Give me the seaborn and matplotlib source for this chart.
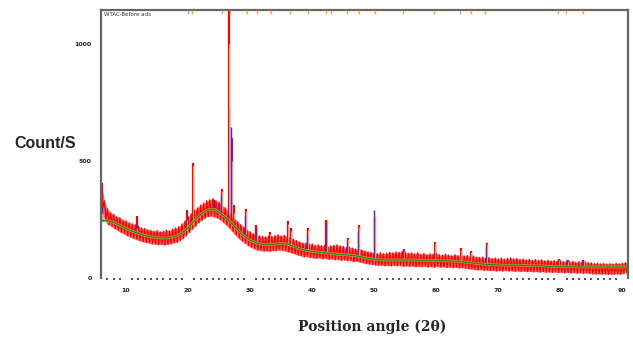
import numpy as np
import matplotlib
matplotlib.use("Agg")
import matplotlib.pyplot as plt
import seaborn as sns

# background (green) read every 1 degree, 6..91
bg_pos = list(range(6, 92))
bg_cnt = [245, 245, 238, 225, 212, 200, 190, 182, 176, 172,
          171, 172, 178, 192, 215, 245, 270, 290, 295, 282,
          260, 235, 205, 180, 162, 150, 144, 143, 145, 148,
          145, 135, 125, 118, 114, 111, 108, 105, 102, 100,
          98, 95, 90, 85, 80, 78, 77, 77, 77, 77,
          77, 77, 76, 75, 74, 73, 73, 72, 70, 67,
          64, 61, 59, 57, 56, 55, 55, 55, 54, 53,
          52, 52, 51, 50, 49, 48, 48, 47, 47, 47,
          47, 47, 47, 47, 47, 47]

# observed (red) noise band, upper / lower edge every 0.5 degree, 6..91
obs_pos = np.arange(6.0, 91.01, 0.5)
obs_top = [410, 330, 295, 280, 272, 262, 258, 248, 245, 236,
           232, 228, 222, 214, 212, 206, 204, 200, 203, 198,
           200, 205, 202, 210, 214, 220, 232, 245, 262, 275,
           290, 300, 312, 320, 330, 335, 340, 330, 325, 310,
           300, 285, 270, 255, 240, 228, 218, 205, 198, 190,
           185, 180, 178, 176, 180, 178, 182, 185, 180, 183,
           178, 172, 165, 160, 155, 150, 150, 145, 146, 140,
           142, 138, 140, 135, 138, 140, 142, 138, 135, 130,
           132, 128, 124, 126, 120, 116, 112, 110, 108, 104,
           108, 104, 106, 110, 108, 112, 110, 114, 110, 106,
           108, 104, 108, 102, 105, 100, 104, 102, 106, 100,
           98, 102, 98, 96, 100, 96, 98, 95, 96, 92,
           94, 90, 88, 90, 86, 88, 84, 86, 82, 85,
           80, 84, 86, 82, 84, 80, 82, 78, 80, 76,
           79, 76, 78, 74, 76, 73, 75, 72, 74, 70,
           73, 70, 72, 68, 70, 67, 69, 66, 65, 62,
           64, 61, 63, 60, 62, 60, 63, 61, 64, 66,
           70]
obs_bot = [300, 250, 228, 222, 212, 205, 196, 190, 182, 176,
           170, 166, 160, 156, 152, 150, 146, 145, 142, 144,
           141, 144, 145, 150, 152, 160, 168, 180, 195, 208,
           220, 235, 245, 255, 262, 265, 262, 258, 250, 240,
           228, 215, 200, 185, 172, 160, 150, 140, 132, 126,
           120, 118, 115, 116, 114, 117, 116, 120, 118, 116,
           112, 108, 104, 98, 96, 90, 92, 88, 86, 84,
           86, 82, 84, 80, 82, 78, 80, 76, 78, 74,
           75, 70, 72, 68, 66, 62, 60, 58, 56, 54,
           55, 52, 54, 52, 55, 52, 54, 50, 52, 50,
           52, 48, 50, 48, 51, 47, 49, 46, 50, 46,
           48, 45, 47, 44, 46, 43, 44, 42, 40, 38,
           37, 34, 36, 33, 34, 32, 33, 30, 32, 30,
           32, 30, 31, 29, 30, 28, 30, 27, 29, 26,
           28, 25, 27, 25, 26, 24, 26, 23, 25, 22,
           24, 22, 23, 21, 23, 20, 22, 20, 18, 17,
           19, 16, 18, 15, 17, 16, 18, 16, 19, 22,
           24]

# peaks: position, foot, observed (red), calculated (blue), k-alpha2 (orange)
peak_pos = [6.1, 11.7, 19.8, 20.8, 24.2, 25.4, 26.6, 27.0, 27.4, 29.3,
            31.0, 33.2, 36.1, 36.6, 39.3, 42.3, 45.7, 47.5, 50.1, 54.8,
            59.8, 64.0, 65.6, 68.1, 79.8, 81.2, 83.7]
peak_base = [250, 190, 200, 225, 290, 285, 270, 260, 250, 190,
             160, 150, 150, 140, 120, 110, 100, 95, 80, 80,
             75, 70, 65, 60, 50, 48, 47]
peak_red = [405, 265, 290, 490, 335, 380, 1140, 600, 310, 295,
            228, 195, 245, 215, 213, 250, 170, 226, 262, 122,
            155, 128, 115, 150, 80, 76, 78]
peak_blue = [300, 225, 265, 440, 320, 360, 730, 645, 250, 270,
             210, 180, 220, 215, 190, 230, 160, 200, 290, 118,
             142, 110, 112, 140, 78, 76, 78]
peak_orange = [280, 215, 250, 480, 300, 370, 1000, 500, 280, 285,
               220, 190, 230, 200, 205, 248, 165, 220, 265, 115,
               150, 120, 110, 145, 75, 72, 74]

# reference markers along the top frame
ref_pos = [19.9, 20.7, 25.4, 26.7, 29.5, 31.1, 33.3, 36.4, 39.3, 42.2,
           43.1, 45.6, 47.5, 50.1, 54.7, 59.7, 63.9, 65.6, 67.9, 79.7,
           80.9, 83.6]

sns.set_style("white")
fig = plt.figure(figsize=(6.33, 3.37), dpi=100)
ax = fig.add_axes([0.160, 0.175, 0.832, 0.795])

# noisy observed pattern: light band plus a zigzag between the two edges
ax.fill_between(obs_pos, obs_bot, obs_top, color="#ff7070", lw=0)
zig_x = np.column_stack([obs_pos, obs_pos + 0.25]).ravel()
zig_y = np.column_stack([obs_top, obs_bot]).ravel()
ax.plot(zig_x, zig_y, color="#ff0000", lw=0.9)

ax.vlines(peak_pos, peak_base, peak_red, color="#ff0000", lw=1.6)
ax.vlines([p - 0.06 for p in peak_pos], peak_base, peak_blue,
          color="#2b2bff", lw=1.0)
ax.vlines([p + 0.06 for p in peak_pos], peak_base, peak_orange,
          color="#ff9a3c", lw=0.8)
sns.lineplot(x=bg_pos, y=bg_cnt, ax=ax, color="#f0a040", lw=1.8)
sns.lineplot(x=bg_pos, y=bg_cnt, ax=ax, color="#1f8a1f", lw=1.0)

ax.vlines(ref_pos, 0.985, 1.0, transform=ax.get_xaxis_transform(),
          color="#ffa040", lw=1.0, zorder=5)

ax.set_xlim(6.0, 90.9)
ax.set_ylim(0, 1145)
ax.set_xticks(range(10, 91, 10))
ax.set_xticks(range(7, 91), minor=True)
ax.set_yticks([0, 500, 1000])
ax.tick_params(axis="both", which="major", labelsize=4.5, length=5,
               width=1.0, color="#555555", pad=2)
ax.tick_params(axis="x", which="minor", length=1.5, width=1.2,
               color="#333333", bottom=True)
for lab in ax.get_xticklabels() + ax.get_yticklabels():
    lab.set_fontweight("bold")

for s in ["left", "top", "right"]:
    ax.spines[s].set_color("#666666")
    ax.spines[s].set_linewidth(1.6)
ax.spines["bottom"].set_visible(False)
ax.set_xlabel("")
ax.set_ylabel("")

ax.text(0.005, 0.993, "WTAC-Before ads", transform=ax.transAxes,
        fontsize=4, color="#333333", va="top", ha="left")

fig.text(14 / 633, 1 - 143 / 337, "Count/S", fontsize=11.5,
         fontweight="bold", family="Liberation Sans", ha="left", va="center")
fig.text(372 / 633, 1 - 327 / 337, "Position angle (2θ)", fontsize=10,
         fontweight="bold", family="DejaVu Serif", ha="center", va="center")

fig.savefig("out.png", dpi=100)
